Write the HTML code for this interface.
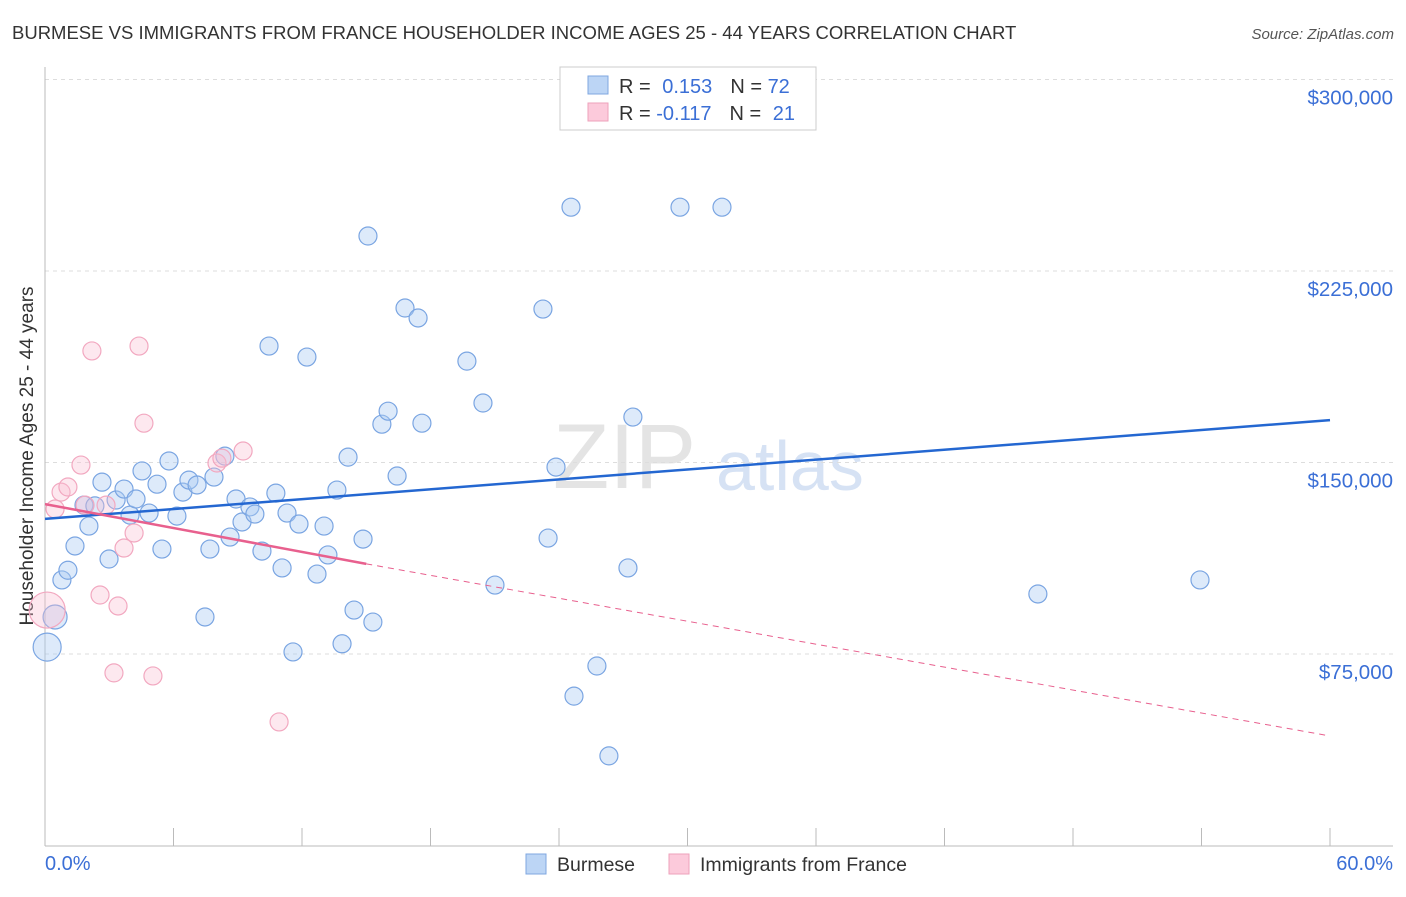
<!DOCTYPE html>
<html><head><meta charset="utf-8"><style>
body{margin:0;background:#fff;font-family:"Liberation Sans",sans-serif}
svg text{font-family:"Liberation Sans",sans-serif}
</style></head><body>
<svg id="chart" width="1406" height="892">
<text x="12" y="39" font-size="18.5" fill="#333">BURMESE VS IMMIGRANTS FROM FRANCE HOUSEHOLDER INCOME AGES 25 - 44 YEARS CORRELATION CHART</text>
<text x="1394" y="39" font-size="15" fill="#555" font-style="italic" text-anchor="end">Source: ZipAtlas.com</text>
<g>
<text x="553" y="488" font-size="92" fill="#e4e4e4" font-family="Liberation Serif,serif">ZIP</text>
<text x="716" y="490" font-size="70" fill="#d6e2f4">atlas</text>
</g>
<g id="grid"></g>
<line x1="45" y1="67" x2="45" y2="846" stroke="#bbb"/>
<line x1="45" y1="846" x2="1393" y2="846" stroke="#bbb"/>
<text x="33" y="456" font-size="19" fill="#333" text-anchor="middle" transform="rotate(-90 33 456)">Householder Income Ages 25 - 44 years</text>
<text x="45" y="870" font-size="20" fill="#3b6fd6">0.0%</text>
<text x="1393" y="870" font-size="20" fill="#3b6fd6" text-anchor="end">60.0%</text>
<g id="points"></g>
<g id="lines"></g>
<g>
<rect x="560" y="67" width="256" height="63" fill="#fff" stroke="#ccc"/>
<rect x="588" y="76" width="20" height="18" fill="#bcd5f5" stroke="#7fa7e0"/>
<rect x="588" y="103" width="20" height="18" fill="#fccadb" stroke="#eea2bb"/>
<text x="619" y="93" font-size="20" fill="#333">R = <tspan fill="#3b6fd6" dx="6">0.153</tspan><tspan dx="18">N = </tspan><tspan fill="#3b6fd6">72</tspan></text>
<text x="619" y="120" font-size="20" fill="#333">R = <tspan fill="#3b6fd6">-0.117</tspan><tspan dx="18">N = </tspan><tspan fill="#3b6fd6" dx="6">21</tspan></text>
</g>
<g>
<rect x="526" y="854" width="20" height="20" fill="#bcd5f5" stroke="#7fa7e0"/>
<text x="557" y="871" font-size="19.5" fill="#333">Burmese</text>
<rect x="669" y="854" width="20" height="20" fill="#fccadb" stroke="#eea2bb"/>
<text x="700" y="871" font-size="19.5" fill="#333">Immigrants from France</text>
</g>
</svg>
<script>
const yTicks=[75000,150000,225000,300000];
const yTickLabels=["$75,000","$150,000","$225,000","$300,000"];
const xTicks=[0,6,12,18,24,30,36,42,48,54,60];
const burmeseX=[0.1,0.47,0.79,1.07,1.4,2.05,1.82,2.33,2.66,2.99,3.32,3.69,3.97,4.25,4.53,4.86,5.23,5.46,5.79,6.16,6.44,6.72,7.1,7.47,7.7,7.89,8.4,8.64,8.92,9.2,9.57,9.8,10.13,10.46,10.78,11.07,11.3,11.58,11.86,12.23,12.7,13.03,13.21,13.63,13.87,14.15,14.43,14.85,15.08,15.31,15.73,16.02,16.44,16.81,17.42,17.6,19.7,20.45,21.01,23.25,23.49,23.86,24.56,24.7,25.77,26.33,27.22,27.45,29.65,31.61,46.36,53.93];
const burmeseY=[77700,89500,104000,107800,117300,125100,133300,133000,142300,112200,135300,139600,129400,135700,146700,130200,141500,116100,150600,129000,138400,143100,141200,89500,116100,144300,152500,120800,135700,126700,132600,129800,115300,195600,138000,108700,130200,75800,125900,191300,106300,125100,113800,139200,79000,152100,92200,120000,238700,87500,165000,170100,144700,210500,206600,165400,189700,173300,102000,210100,120400,148200,250000,58500,70300,35100,108700,167800,250000,250000,98500,104000];
const franceX=[0.1,0.47,0.75,1.07,1.68,1.87,2.19,2.57,2.85,3.22,3.41,3.69,4.16,4.39,4.62,5.04,8.03,8.26,9.25,10.93];
const franceY=[92200,131800,138400,140400,149000,133300,193700,98100,133300,67600,93800,116500,122400,195600,165400,66400,149800,151700,154500,48400];
const burmeseTrend=[127900,166600];
const franceTrend=[133700,110300,42900];
const franceSolidEnd=15;
const NS="http://www.w3.org/2000/svg";
const X=v=>45+v/60*1285, Y=v=>845.5-v/75000*191.5;
function mk(tag,attrs,parent){const e=document.createElementNS(NS,tag);for(const k in attrs)e.setAttribute(k,attrs[k]);parent.appendChild(e);return e;}
const grid=document.getElementById('grid');
yTicks.forEach((t,i)=>{
 const l=mk('line',{x1:45,x2:1393,y1:Y(t),y2:Y(t),stroke:'#ddd','stroke-dasharray':'4,4'},grid);
 
 
 const tx=mk('text',{x:1393,y:Y(t)+25,'font-size':20.5,fill:'#3b6fd6','text-anchor':'end'},grid);
 tx.textContent=yTickLabels[i];
 
 
});
xTicks.forEach(t=>{
 const l=mk('line',{x1:X(t),x2:X(t),y1:828,y2:846,stroke:'#bbb'},grid);
 
 
});
const pts=document.getElementById('points');
burmeseX.forEach((x,i)=>{
 const r=i===0?14:(i===1?12:9);
 const c=mk('circle',{cx:X(x),cy:Y(burmeseY[i]),r:r,fill:'rgba(170,202,242,0.4)',stroke:'#7aa5e2','stroke-width':1.2},pts);
 
 
});
franceX.forEach((x,i)=>{
 const r=i===0?18:9;
 const c=mk('circle',{cx:X(x),cy:Y(franceY[i]),r:r,fill:'rgba(250,190,208,0.35)',stroke:'#f2a8c0','stroke-width':1.2},pts);
 
 
});
const ln=document.getElementById('lines');
const b=mk('line',{x1:X(0),y1:Y(burmeseTrend[0]),x2:X(60),y2:Y(burmeseTrend[1]),stroke:'#2467d1','stroke-width':2.5},ln);


const f1=mk('line',{x1:X(0),y1:Y(franceTrend[0]),x2:X(franceSolidEnd),y2:Y(franceTrend[1]),stroke:'#e8608e','stroke-width':2.5},ln);


const f2=mk('line',{x1:X(franceSolidEnd),y1:Y(franceTrend[1]),x2:X(60),y2:Y(franceTrend[2]),stroke:'#e8608e','stroke-width':1,'stroke-dasharray':'6,5'},ln);


</script>
</body></html>
